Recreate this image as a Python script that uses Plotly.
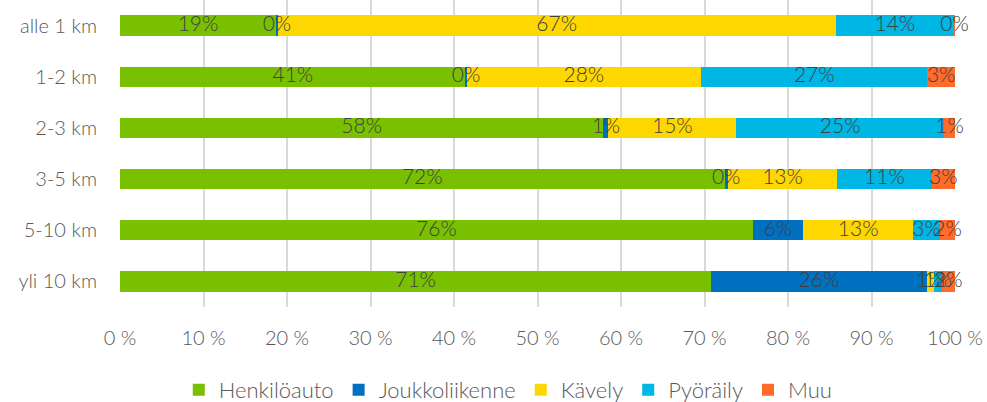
import plotly.graph_objects as go

# Travel-mode shares (%) by trip length
categories = ["alle 1 km", "1-2 km", "2-3 km", "3-5 km", "5-10 km", "yli 10 km"]
modes = ["Henkilöauto", "Joukkoliikenne", "Kävely", "Pyöräily", "Muu"]

henkiloauto = [18.7, 41.4, 57.9, 72.4, 75.8, 70.8]
joukkoliikenne = [0.2, 0.1, 0.6, 0.4, 6.0, 25.8]
kavely = [66.8, 28.1, 15.3, 13.1, 13.2, 0.9]
pyoraily = [14.2, 27.1, 24.9, 11.3, 3.2, 0.9]
muu = [0.1, 3.3, 1.3, 2.8, 1.8, 1.6]

series = [henkiloauto, joukkoliikenne, kavely, pyoraily, muu]
colors = ["#78C000", "#0070C0", "#FFD700", "#00B6E4", "#FF6B2A"]

x_ticks = list(range(0, 101, 10))
x_tick_text = [f"{v} %" for v in x_ticks]

font_family = "Lato, Open Sans, sans-serif"
text_color = "#595959"
label_color = "#404040"

fig = go.Figure()

# stacked bars
for name, vals, col in zip(modes, series, colors):
    fig.add_trace(go.Bar(
        y=categories,
        x=vals,
        name=name,
        orientation="h",
        marker=dict(color=col, line=dict(width=0)),
        hoverinfo="skip",
    ))

# value labels centred on each segment, drawn above all bars
base = [0.0] * len(categories)
for vals in series:
    mids = [b + v / 2 for b, v in zip(base, vals)]
    fig.add_trace(go.Scatter(
        y=categories,
        x=mids,
        mode="text",
        text=[f"{v:.0f}%" for v in vals],
        textposition="middle center",
        textfont=dict(color=label_color, size=21, family=font_family, weight=300),
        showlegend=False,
        cliponaxis=False,
        hoverinfo="skip",
    ))
    base = [b + v for b, v in zip(base, vals)]

fig.update_layout(
    barmode="stack",
    bargap=0.6,
    width=987,
    height=402,
    margin=dict(l=120, r=32, t=0, b=95, autoexpand=False),
    plot_bgcolor="white",
    paper_bgcolor="white",
    font=dict(family=font_family, color=text_color, size=20, weight=300),
    legend=dict(
        orientation="h",
        x=0.465, xanchor="center",
        yref="container",
        y=0.03, yanchor="middle",
        font=dict(size=22, color=text_color, weight=300),
        itemwidth=30,
        traceorder="normal",
    ),
    showlegend=True,
)

fig.update_xaxes(
    range=[0, 100],
    tickvals=x_ticks,
    ticktext=x_tick_text,
    showgrid=True,
    gridcolor="#D9D9D9",
    gridwidth=2,
    zeroline=False,
    showline=False,
    ticks="",
    ticklabelstandoff=17,
    tickfont=dict(size=20, color=text_color, weight=300),
)

fig.update_yaxes(
    autorange="reversed",
    showgrid=False,
    ticks="",
    ticklabelstandoff=22,
    tickfont=dict(size=20, color=text_color, weight=300),
)

fig.write_html("out.html")
